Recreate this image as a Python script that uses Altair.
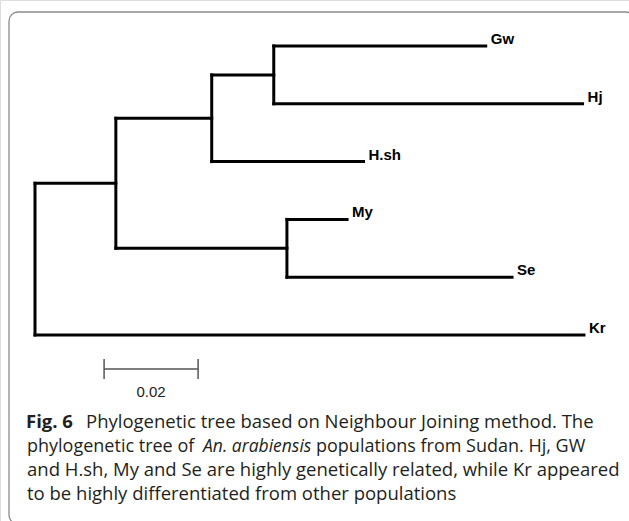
import altair as alt
import pandas as pd

# ---- tree data (branch lengths) ----
nodes = ["root", "A", "B", "C", "D", "Gw", "Hj", "H.sh", "My", "Se", "Kr"]
parents = [None, "root", "A", "B", "A", "C", "C", "B", "D", "D", "root"]
branch_lengths = [0.0, 0.0172, 0.0204, 0.0132, 0.0364, 0.0451, 0.0657, 0.0323, 0.0128, 0.0479, 0.1168]
leaf_order = ["Gw", "Hj", "H.sh", "My", "Se", "Kr"]

scale_bar_value = 0.02
scale_bar_start = 0.0147
scale_bar_label = "0.02"

caption_line1_bold = "Fig. 6"
caption_line1 = "Phylogenetic tree based on Neighbour Joining method. The"
caption_line2a = "phylogenetic tree of"
caption_line2_italic = "An. arabiensis"
caption_line2b = "populations from Sudan. Hj, GW"
caption_line3 = "and H.sh, My and Se are highly genetically related, while Kr appeared"
caption_line4 = "to be highly differentiated from other populations"

# ---- tree layout ----
parent_of = dict(zip(nodes, parents))
length_of = dict(zip(nodes, branch_lengths))
children = {n: [c for c in nodes if parent_of[c] == n] for n in nodes}

xpos = {}
def depth(n):
    if n in xpos:
        return xpos[n]
    p = parent_of[n]
    xpos[n] = length_of[n] + (depth(p) if p else 0.0)
    return xpos[n]
for n in nodes:
    depth(n)

ypos = {}
def yof(n):
    if n in ypos:
        return ypos[n]
    if not children[n]:
        ypos[n] = float(leaf_order.index(n))
    else:
        ys = [yof(c) for c in children[n]]
        ypos[n] = (min(ys) + max(ys)) / 2
    return ypos[n]
for n in nodes:
    yof(n)

segs = []
for n in nodes:
    p = parent_of[n]
    if p:
        segs.append(dict(x=xpos[p], x2=xpos[n], y=ypos[n], y2=ypos[n]))
    if children[n]:
        ys = [ypos[c] for c in children[n]]
        segs.append(dict(x=xpos[n], x2=xpos[n], y=min(ys), y2=max(ys)))
seg_df = pd.DataFrame(segs)

leaf_df = pd.DataFrame([dict(label=l, x=xpos[l], y=ypos[l]) for l in leaf_order])

xscale = alt.Scale(domain=[-0.007447, 0.126383], nice=False, zero=False)
yscale = alt.Scale(domain=[-0.7958, 8.218], nice=False, zero=False, reverse=True)

W, H = 629, 521

frame = alt.Chart(pd.DataFrame({"a": [0]})).mark_rect(
    fill=None, stroke="#8a8a8a", strokeWidth=1.3, cornerRadius=9
).encode(x=alt.value(9), x2=alt.value(635), y=alt.value(12), y2=alt.value(524))

branches = alt.Chart(seg_df).mark_rule(
    color="black", strokeWidth=3, strokeCap="square"
).encode(
    x=alt.X("x:Q", scale=xscale, axis=None),
    x2="x2:Q",
    y=alt.Y("y:Q", scale=yscale, axis=None),
    y2="y2:Q",
)

labels = alt.Chart(leaf_df).mark_text(
    align="left", baseline="alphabetic", dx=5, dy=-2,
    font="Liberation Sans", fontWeight="bold", fontSize=15, color="black"
).encode(
    x=alt.X("x:Q", scale=xscale, axis=None),
    y=alt.Y("y:Q", scale=yscale, axis=None),
    text="label:N",
)

sb_df = pd.DataFrame([dict(x=scale_bar_start, x2=scale_bar_start + scale_bar_value,
                           xm=scale_bar_start + scale_bar_value / 2, label=scale_bar_label)])
sb_line = alt.Chart(sb_df).mark_rule(color="#555555", strokeWidth=1.5).encode(
    x=alt.X("x:Q", scale=xscale, axis=None), x2="x2:Q", y=alt.value(369)
)
sb_tick1 = alt.Chart(sb_df).mark_rule(color="#555555", strokeWidth=1.5).encode(
    x=alt.X("x:Q", scale=xscale, axis=None), y=alt.value(359), y2=alt.value(379)
)
sb_tick2 = alt.Chart(sb_df).mark_rule(color="#555555", strokeWidth=1.5).encode(
    x=alt.X("x2:Q", scale=xscale, axis=None), y=alt.value(359), y2=alt.value(379)
)
sb_text = alt.Chart(sb_df).mark_text(
    align="center", baseline="alphabetic", font="Liberation Sans", fontSize=15, color="#222222"
).encode(x=alt.X("xm:Q", scale=xscale, axis=None), y=alt.value(397), text="label:N")

cap_font = "Open Sans"
cap_size = 18.5
cap_color = "#231f20"

def cap(text, x, y, weight="normal", style="normal", size=cap_size):
    return alt.Chart(pd.DataFrame({"t": [text]})).mark_text(
        align="left", baseline="alphabetic", font=cap_font, fontSize=size,
        fontWeight=weight, fontStyle=style, color=cap_color
    ).encode(x=alt.value(x), y=alt.value(y), text="t:N")

caption = [
    cap(caption_line1_bold, 26, 428, weight="bold"),
    cap(caption_line1, 86, 428),
    cap(caption_line2a, 27, 452, size=18),
    cap(caption_line2_italic, 203, 452, style="italic", size=17.5),
    cap(caption_line2b, 316, 452, size=18),
    cap(caption_line3, 27, 476),
    cap(caption_line4, 27, 500),
]

chart = alt.layer(
    frame, branches, labels, sb_line, sb_tick1, sb_tick2, sb_text, *caption
).properties(
    width=W, height=H, padding=0, autosize=alt.AutoSizeParams(type="none")
).configure_view(stroke=None).configure(background="white")

chart.save("out.html", embed_options={"renderer": "svg", "actions": False})
